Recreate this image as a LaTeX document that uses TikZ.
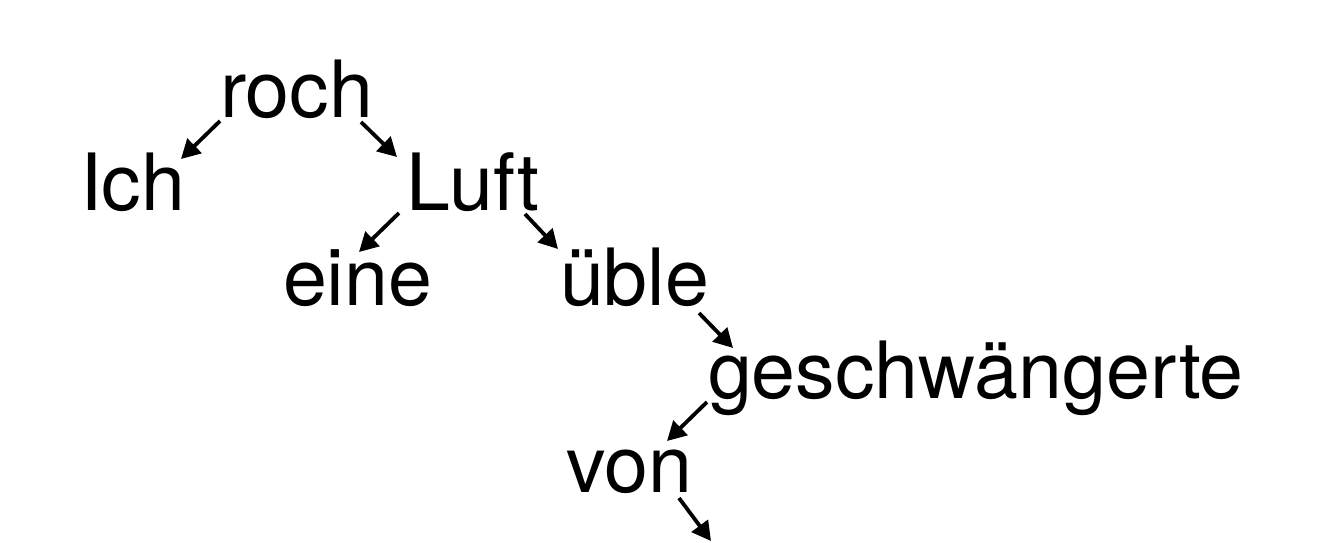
\documentclass[tikz,border=0pt]{standalone}
\usepackage{fontspec}
\setmainfont{TeX Gyre Heros}
\usetikzlibrary{arrows.meta}
\begin{document}
\begin{tikzpicture}[x=1pt,y=-1pt,
  word/.style={anchor=base west,inner sep=0pt,outer sep=0pt,font=\fontsize{79}{90}\selectfont},
  dep/.style={line width=3.8pt,-{Triangle[length=19pt,width=20pt]}}]
\useasboundingbox (0,0) rectangle (1318,542);
\node[word] (roch) at (220,117) {roch};
\node[word] (ich) at (80,210) {Ich};
\node[word] (luft) at (406,210) {Luft};
\node[word] (eine) at (283,305) {eine};
\node[word] (ueble) at (560,305) {üble};
\node[word] (gesch) at (708,398) {geschwängerte};
\node[word] (von) at (566,492) {von};
\coordinate (end) at (711,541);
\draw[dep] ([shift={(0,4)}]roch.base west) -- ([shift={(101,-51)}]ich.base west);
\draw[dep] ([shift={(141,5)}]roch.base west) -- ([shift={(-9,-53)}]luft.base west);
\draw[dep] ([shift={(-7,3)}]luft.base west) -- ([shift={(76,-53)}]eine.base west);
\draw[dep] ([shift={(119,4)}]luft.base west) -- ([shift={(-2,-56)}]ueble.base west);
\draw[dep] ([shift={(139,8)}]ueble.base west) -- ([shift={(25,-50)}]gesch.base west);
\draw[dep] ([shift={(-1,4)}]gesch.base west) -- ([shift={(101,-51)}]von.base west);
\draw[dep] ([shift={(113,6)}]von.base west) -- (end);
\end{tikzpicture}
\end{document}
